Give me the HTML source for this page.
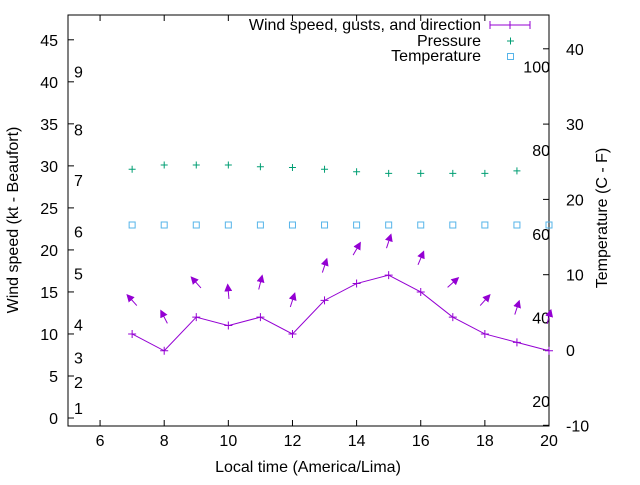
<!DOCTYPE html>
<html><head><meta charset="utf-8"><style>
body{margin:0;background:#fff}
svg{font-family:"Liberation Sans",sans-serif;font-size:16px}
</style></head><body>
<svg id="c" width="640" height="480">
<defs><marker id="ah" viewBox="0 0 10 10" refX="8" refY="5" markerWidth="8" markerHeight="8" markerUnits="userSpaceOnUse" orient="auto"><path d="M0,0 L10,5 L0,10 z" fill="#9400d3"/></marker></defs>
</svg>
<script>
const hours=[7,8,9,10,11,12,13,14,15,16,17,18,19,20];
const speed=[10,8,12,11,12,10,14,16,17,15,12,10,9,8];
const gust=[14,12,16.1,15,16.1,14,18.1,20.1,21,19,16.1,14,13.1,12];
const dirDeg=[132,117,132,95,76,72,72,60,72,67,42,48,72,75];
const pHours=[7,8,9,10,11,12,13,14,15,16,17,18,19];
const pressure=[29.6,30.1,30.1,30.1,29.9,29.8,29.6,29.3,29.1,29.1,29.1,29.1,29.4];
const temp=[16.6,16.6,16.6,16.6,16.6,16.6,16.6,16.6,16.6,16.6,16.6,16.6,16.6,16.6];
const xTicks=[6,8,10,12,14,16,18,20];
const yTicks=[0,5,10,15,20,25,30,35,40,45];
const y2Ticks=[-10,0,10,20,30,40];
const beaufort=[["1",1.2],["2",4.3],["3",7.2],["4",11.1],["5",17.2],["6",22.2],["7",28.3],["8",34.3],["9",41.2]];
const fahr=[20,40,60,80,100];
const L=68,R=549,T=15,B=426;
const X=v=>L+(v-5)/15*(R-L);
const Y=v=>B-(v+0.95)/48.9*(B-T);
const Y2=v=>350-v*7.53;
const s=document.getElementById('c');const NS='http://www.w3.org/2000/svg';
function el(t,a,txt){const e=document.createElementNS(NS,t);for(const k in a)e.setAttribute(k,a[k]);if(txt!==undefined)e.textContent=txt;s.appendChild(e);return e;}
let e;
e=el('rect',{x:L,y:T,width:R-L,height:B-T,fill:'none',stroke:'#000'});


xTicks.forEach(v=>{el('line',{x1:X(v),x2:X(v),y1:B,y2:B-6,stroke:'#000'});el('line',{x1:X(v),x2:X(v),y1:T,y2:T+6,stroke:'#000'});
e=el('text',{x:X(v),y:B+20,'text-anchor':'middle'},v);

});
yTicks.forEach(v=>{el('line',{x1:L,x2:L+6,y1:Y(v),y2:Y(v),stroke:'#000'});
e=el('text',{x:L-10,y:Y(v)+6,'text-anchor':'end'},v);

});
y2Ticks.forEach(v=>{el('line',{x1:R,x2:R-6,y1:Y2(v),y2:Y2(v),stroke:'#000'});
e=el('text',{x:566,y:Y2(v)+6},v);

});
beaufort.forEach(b=>{e=el('text',{x:74,y:Y(b[1])+6},b[0]);

});
fahr.forEach(f=>{e=el('text',{x:550,y:Y2((f-32)*5/9)+7,'text-anchor':'end'},f);

});
e=el('text',{x:308,y:472,'text-anchor':'middle'},'Local time (America/Lima)');


e=el('text',{x:0,y:0,'text-anchor':'middle',transform:'translate(18,220) rotate(-90)'},'Wind speed (kt - Beaufort)');


e=el('text',{x:0,y:0,'text-anchor':'middle',transform:'translate(607,218) rotate(-90)'},'Temperature (C - F)');


e=el('polyline',{points:hours.map((h,i)=>X(h)+','+Y(speed[i])).join(' '),fill:'none',stroke:'#9400d3'});


hours.forEach((h,i)=>{const x=X(h),y=Y(speed[i]);e=el('path',{d:`M${x-4},${y}h8M${x},${y-4}v8`,stroke:'#9400d3'});

});
hours.forEach((h,i)=>{const x=X(h),y=Y(gust[i]),a=dirDeg[i]*Math.PI/180,dx=7*Math.cos(a),dy=-7*Math.sin(a);
e=el('line',{x1:x-dx,y1:y-dy,x2:x+dx,y2:y+dy,stroke:'#9400d3','marker-end':'url(#ah)'});

});
pHours.forEach((h,i)=>{const x=X(h),y=Y(pressure[i]);e=el('path',{d:`M${x-3.5},${y}h7M${x},${y-3.5}v7`,stroke:'#009e73'});

});
hours.forEach((h,i)=>{const x=X(h),y=Y2(temp[i]);e=el('rect',{x:x-3,y:y-3,width:6,height:6,fill:'none',stroke:'#56b4e9'});

});
e=el('text',{x:481,y:30,'text-anchor':'end'},'Wind speed, gusts, and direction');


e=el('path',{d:'M490,25h40M510,21v8M490,21v8M530,21v8',stroke:'#9400d3',fill:'none'});


e=el('text',{x:481,y:46,'text-anchor':'end'},'Pressure');


e=el('path',{d:'M507,41h7M510.5,37.5v7',stroke:'#009e73'});


e=el('text',{x:481,y:61,'text-anchor':'end'},'Temperature');


e=el('rect',{x:507.5,y:53.5,width:6,height:6,fill:'none',stroke:'#56b4e9'});


</script>
</body></html>
